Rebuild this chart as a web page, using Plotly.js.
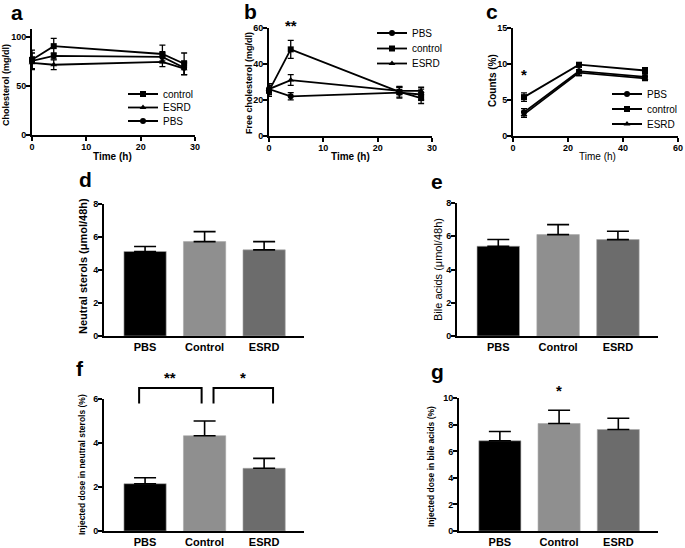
<!DOCTYPE html>
<html>
<head>
<meta charset="utf-8">
<script src="https://cdn.plot.ly/plotly-3.0.1.min.js"></script>
<style>
  html, body { margin: 0; padding: 0; background: #fff; }
  #fig { width: 685px; height: 548px; }
</style>
</head>
<body>
<div id="fig"></div>
<script>
// ---- data ----
const timeAB = [ 0, 4, 24, 28 ];
const cholControl = [ 77, 91, 83, 73 ];
const cholControlErr = [ 10, 8, 9, 11 ];
const cholESRD = [ 74, 72, 75, 68 ];
const cholESRDErr = [ 6, 5, 5, 6 ];
const cholPBS = [ 76, 81, 80, 69 ];
const cholPBSErr = [ 8, 3, 4, 7 ];

const freeControl = [ 25, 48, 24.5, 21 ];
const freeControlErr = [ 3, 5, 3, 3 ];
const freeESRD = [ 26, 31, 25, 25 ];
const freeESRDErr = [ 2, 3, 2, 2 ];
const freePBS = [ 26, 22, 24, 23 ];
const freePBSErr = [ 3, 2, 3, 3 ];

const timeC = [ 4, 24, 48 ];
const countControl = [ 5.4, 9.9, 9.1 ];
const countControlErr = [ 0.6, 0.3, 0.4 ];
const countPBS = [ 3.3, 9.0, 8.2 ];
const countPBSErr = [ 0.5, 0.6, 0.3 ];
const countESRD = [ 3.0, 8.8, 8.0 ];
const countESRDErr = [ 0.4, 0.4, 0.3 ];

const groups = [ 'PBS', 'Control', 'ESRD' ];
const groupColors = [ '#000000', '#8f8f8f', '#6c6c6c' ];
const neutral = [ 5.1, 5.7, 5.2 ];
const neutralErr = [ 0.3, 0.6, 0.5 ];
const bile = [ 5.4, 6.1, 5.8 ];
const bileErr = [ 0.4, 0.6, 0.5 ];
const doseNeutral = [ 2.15, 4.33, 2.85 ];
const doseNeutralErr = [ 0.27, 0.67, 0.45 ];
const doseBile = [ 6.8, 8.1, 7.65 ];
const doseBileErr = [ 0.7, 1.0, 0.85 ];

// significance brackets in panel f (x in group index units, y in data units)
const bracketX = [ [ -0.1, 0.95 ], [ 1.15, 2.15 ] ];
const bracketLabels = [ '**', '*' ];
const bracketLow = 5.8, bracketHigh = 6.5, bracketText = 7.0;

// ---- helpers ----
const W = 685, H = 548;
const FONT = 'Liberation Sans, Arial, sans-serif';
const px = ( p ) => p / W;
const py = ( p ) => 1 - p / H;
const idx = groups.map( ( g, i ) => i );

let legendCount = 0;
const legends = {};

// every line series gets its own one-entry legend so the entries can sit close together
function lineTrace( name, x, y, err, symbol, xa, ya, legX, legY ) {
    legendCount ++;
    const key = legendCount === 1 ? 'legend' : 'legend' + legendCount;
    legends[ key ] = {
        x: px( legX ), y: py( legY ), xanchor: 'left', yanchor: 'middle', bgcolor: 'rgba(0,0,0,0)',
        font: { family: FONT, size: 10, color: '#000' }
    };
    return {
        type: 'scatter', mode: 'lines+markers', name: name,
        x: x, y: y, xaxis: xa, yaxis: ya, legend: key,
        cliponaxis: false,
        line: { color: '#000', width: 1.8 },
        marker: { color: '#000', symbol: symbol, size: 6 },
        error_y: { type: 'data', array: err, color: '#000', thickness: 1.3, width: 3 }
    };
}

function barTrace( y, err, xa, ya ) {
    return {
        type: 'bar', x: idx, y: y, xaxis: xa, yaxis: ya, width: 0.71,
        showlegend: false,
        marker: { color: groupColors, line: { color: '#a8a8a8', width: 0.6 } },
        error_y: { type: 'data', symmetric: false, array: err, arrayminus: err.map( () => 0 ),
            color: '#000', thickness: 1.6, width: 11 }
    };
}

const tickFont = { family: FONT, size: 9, color: '#000', weight: 700 };

function lineAxis( dom, range, extra ) {
    return Object.assign( {
        domain: dom, range: range, showline: true, linecolor: '#000', linewidth: 2,
        ticks: 'outside', ticklen: 4, tickwidth: 2, tickcolor: '#000', ticklabelstandoff: -2,
        showgrid: false, zeroline: false, tickfont: tickFont, fixedrange: true
    }, extra );
}

function catAxis( dom, anchor ) {
    return {
        domain: dom, range: [ -0.69, 2.67 ], anchor: anchor, showline: true, linecolor: '#000',
        linewidth: 2, ticks: '', showgrid: false, zeroline: false,
        tickvals: idx, ticktext: groups,
        tickfont: { family: FONT, size: 11, color: '#000', weight: 700 }
    };
}

const data = [
    // a
    lineTrace( 'control', timeAB, cholControl, cholControlErr, 'square', 'x', 'y', 123, 94 ),
    lineTrace( 'ESRD', timeAB, cholESRD, cholESRDErr, 'triangle-up', 'x', 'y', 123, 107.5 ),
    lineTrace( 'PBS', timeAB, cholPBS, cholPBSErr, 'circle', 'x', 'y', 123, 121 ),
    // b
    lineTrace( 'PBS', timeAB, freePBS, freePBSErr, 'circle', 'x2', 'y2', 372, 33 ),
    lineTrace( 'control', timeAB, freeControl, freeControlErr, 'square', 'x2', 'y2', 372, 48.5 ),
    lineTrace( 'ESRD', timeAB, freeESRD, freeESRDErr, 'triangle-up', 'x2', 'y2', 372, 63.5 ),
    // c
    lineTrace( 'PBS', timeC, countPBS, countPBSErr, 'circle', 'x3', 'y3', 607, 94 ),
    lineTrace( 'control', timeC, countControl, countControlErr, 'square', 'x3', 'y3', 607, 109 ),
    lineTrace( 'ESRD', timeC, countESRD, countESRDErr, 'triangle-up', 'x3', 'y3', 607, 124 ),
    // d-g
    barTrace( neutral, neutralErr, 'x4', 'y4' ),
    barTrace( bile, bileErr, 'x5', 'y5' ),
    barTrace( doseNeutral, doseNeutralErr, 'x6', 'y6' ),
    barTrace( doseBile, doseBileErr, 'x7', 'y7' )
];

function note( t, x, y, font, extra ) {
    return Object.assign( { text: t, x: px( x ), y: py( y ), xref: 'paper', yref: 'paper',
        xanchor: 'center', yanchor: 'middle', showarrow: false, font: font }, extra );
}
const letter = ( t, x, y ) => note( t, x, y, { family: FONT, size: 21, color: '#000', weight: 700 } );
const ytitle = ( t, x, y, size, bold ) => note( t, x, y,
    { family: FONT, size: size, color: '#000', weight: bold ? 700 : 400 }, { textangle: -90 } );
const xtitle = ( t, x, y, bold ) => note( t, x, y,
    { family: FONT, size: 10, color: '#000', weight: bold ? 700 : 400 } );

function star( t, x, xa, yPaper ) {
    return { text: t, x: x, xref: xa, y: yPaper, yref: 'paper', xanchor: 'center', yanchor: 'middle',
        showarrow: false, font: { family: FONT, size: 15, color: '#000', weight: 700 } };
}

const domF = [ py( 531 ), py( 399 ) ];
const domG = [ py( 531 ), py( 398.3 ) ];
const toPaper = ( dom, top, v ) => dom[ 0 ] + ( dom[ 1 ] - dom[ 0 ] ) * v / top;

const annotations = [
    letter( 'a', 17, 13 ), letter( 'b', 250, 11 ), letter( 'c', 492, 12 ),
    letter( 'd', 85, 179 ), letter( 'e', 437, 181 ), letter( 'f', 80, 368 ), letter( 'g', 437, 371 ),
    ytitle( 'Cholesterol (mg/dl)', 6, 85, 9, true ),
    ytitle( 'Free cholesterol (mg/dl)', 249, 83, 9, true ),
    ytitle( 'Counts (%)', 492, 81, 10, true ),
    ytitle( 'Neutral sterols (μmol/48h)', 83, 266, 11, true ),
    ytitle( 'Bile acids (μmol/48h)', 438, 270, 11, false ),
    ytitle( 'Injected dose in neutral sterols (%)', 82, 465, 8.5, true ),
    ytitle( 'Injected dose in bile acids (%)', 431, 467, 8.5, true ),
    xtitle( 'Time (h)', 113, 156, true ),
    xtitle( 'Time (h)', 350, 156, true ),
    xtitle( 'Time (h)', 597, 156, false ),
    star( '**', timeAB[ 1 ], 'x2', py( 25 ) ),
    star( '*', timeC[ 0 ], 'x3', py( 75 ) ),
    star( '*', 1, 'x7', toPaper( domG, 10, 10.6 ) )
];

const shapes = [];
bracketX.forEach( ( b, i ) => {
    shapes.push( {
        type: 'path', xref: 'x6', yref: 'y6 domain',
        path: `M${b[ 0 ]},${bracketLow / 6} L${b[ 0 ]},${bracketHigh / 6} L${b[ 1 ]},${bracketHigh / 6} L${b[ 1 ]},${bracketLow / 6}`,
        line: { color: '#000', width: 2 }
    } );
    annotations.push( star( bracketLabels[ i ], ( b[ 0 ] + b[ 1 ] ) / 2, 'x6', toPaper( domF, 6, bracketText ) ) );
} );

const layout = Object.assign( {
    width: W, height: H,
    margin: { l: 0, r: 0, t: 0, b: 0 },
    paper_bgcolor: '#fff', plot_bgcolor: 'rgba(0,0,0,0)',
    font: { family: FONT, color: '#000' },
    showlegend: true,
    xaxis: lineAxis( [ px( 32 ), px( 195 ) ], [ 0, 30 ], { anchor: 'y', dtick: 10 } ),
    yaxis: lineAxis( [ py( 135.3 ), py( 28.5 ) ], [ 0, 109 ], { anchor: 'x', tickvals: [ 0, 50, 100 ] } ),
    xaxis2: lineAxis( [ px( 269 ), px( 432 ) ], [ 0, 30 ], { anchor: 'y2', dtick: 10 } ),
    yaxis2: lineAxis( [ py( 136 ), py( 27.7 ) ], [ 0, 60 ], { anchor: 'x2', dtick: 20 } ),
    xaxis3: lineAxis( [ px( 513 ), px( 678 ) ], [ 0, 60 ], { anchor: 'y3', dtick: 20 } ),
    yaxis3: lineAxis( [ py( 136 ), py( 28 ) ], [ 0, 15 ], { anchor: 'x3', dtick: 5 } ),
    xaxis4: catAxis( [ px( 104 ), px( 304 ) ], 'y4' ),
    yaxis4: lineAxis( [ py( 336 ), py( 203.5 ) ], [ 0, 8 ], { anchor: 'x4', dtick: 2 } ),
    xaxis5: catAxis( [ px( 457 ), px( 658 ) ], 'y5' ),
    yaxis5: lineAxis( [ py( 336 ), py( 203 ) ], [ 0, 8 ], { anchor: 'x5', dtick: 2 } ),
    xaxis6: catAxis( [ px( 104 ), px( 304 ) ], 'y6' ),
    yaxis6: lineAxis( domF, [ 0, 6 ], { anchor: 'x6', dtick: 2 } ),
    xaxis7: catAxis( [ px( 459 ), px( 658 ) ], 'y7' ),
    yaxis7: lineAxis( domG, [ 0, 10 ], { anchor: 'x7', dtick: 2 } ),
    annotations: annotations,
    shapes: shapes
}, legends );

Plotly.newPlot( 'fig', data, layout, { displayModeBar: false, staticPlot: true } );
</script>
</body>
</html>
